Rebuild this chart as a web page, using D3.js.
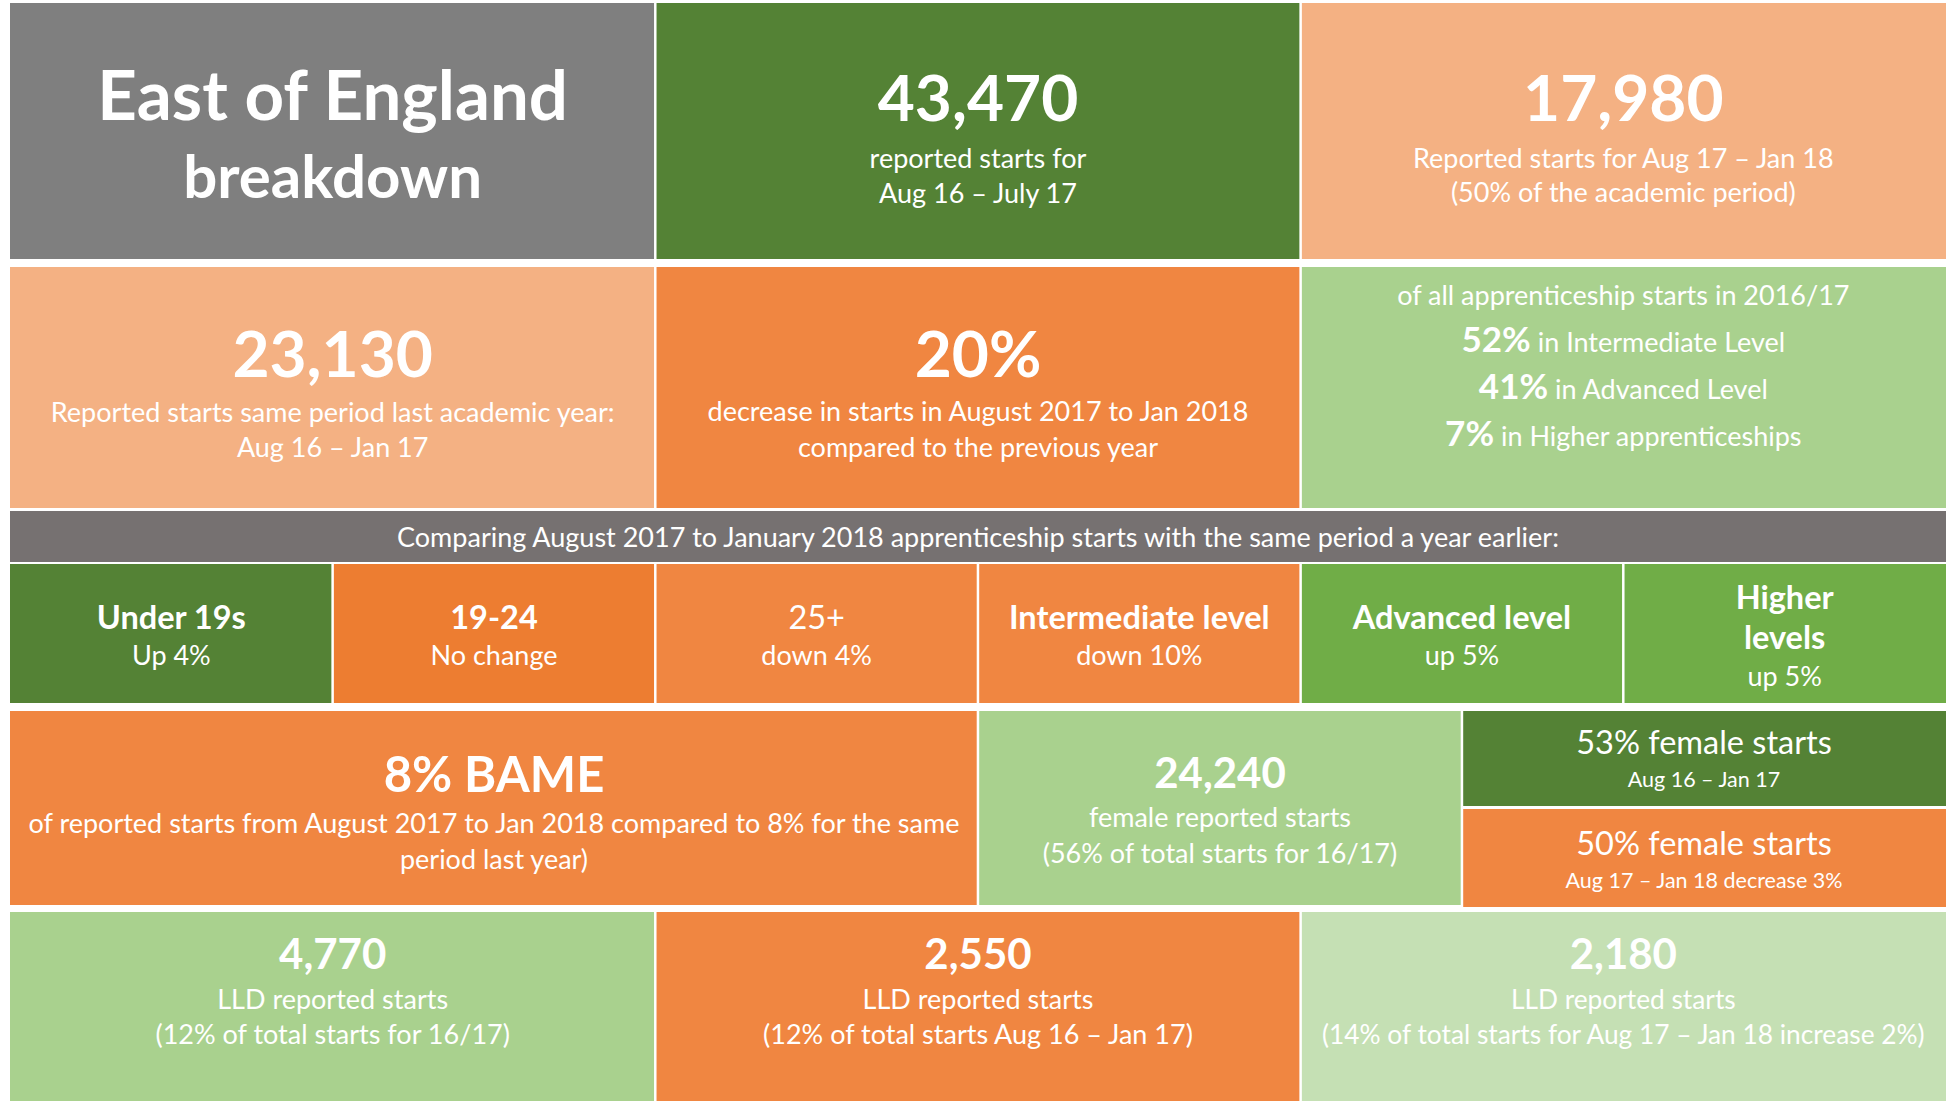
<!DOCTYPE html>
<html>
<head>
<meta charset="utf-8">
<script src="https://cdn.jsdelivr.net/npm/d3@7"></script>
<style>
  html, body { margin: 0; padding: 0; background: #ffffff; }
  svg { display: block; }
  text { font-family: Lato, "Open Sans", sans-serif; fill: #ffffff; }
</style>
</head>
<body>
<svg id="chart" width="1946" height="1101"></svg>
<script>
// ---------------- DATA ----------------
const regionTitle = ["East of England", "breakdown"];

const summaryFigures = ["43,470", "17,980", "23,130", "20%"];
const summaryCaptions = [
  ["reported starts for", "Aug 16 – July 17"],
  ["Reported starts for Aug 17 – Jan 18", "(50% of the academic period)"],
  ["Reported starts same period last academic year:", "Aug 16 – Jan 17"],
  ["decrease in starts in August 2017 to Jan 2018", "compared to the previous year"]
];

const levelIntro = "of all apprenticeship starts in 2016/17";
const levelShares = ["52%", "41%", "7%"];
const levelNames = ["in Intermediate Level", "in Advanced Level", "in Higher apprenticeships"];

const comparisonHeading = "Comparing August 2017 to January 2018 apprenticeship starts with the same period a year earlier:";
const comparisonCategories = [["Under 19s"], ["19-24"], ["25+"], ["Intermediate level"], ["Advanced level"], ["Higher", "levels"]];
const comparisonChanges = ["Up 4%", "No change", "down 4%", "down 10%", "up 5%", "up 5%"];
const comparisonBold = [true, true, false, true, true, true];

const bameFigure = "8% BAME";
const bameCaption = ["of reported starts from August 2017 to Jan 2018 compared to 8% for the same", "period last year)"];

const femaleFigure = "24,240";
const femaleCaption = ["female reported starts", "(56% of total starts for 16/17)"];
const femaleShareLabels = ["53% female starts", "50% female starts"];
const femaleSharePeriods = ["Aug 16 – Jan 17", "Aug 17 – Jan 18 decrease 3%"];

const lldFigures = ["4,770", "2,550", "2,180"];
const lldCaptions = [
  ["LLD reported starts", "(12% of total starts for 16/17)"],
  ["LLD reported starts", "(12% of total starts Aug 16 – Jan 17)"],
  ["LLD reported starts", "(14% of total starts for Aug 17 – Jan 18 increase 2%)"]
];

// ---------------- STYLE / LAYOUT ----------------
const C = {
  gray: "#7f7f7f", band: "#767171", darkGreen: "#548235", peach: "#f4b183",
  orange: "#f08641", deepOrange: "#ed7d31", lightGreen: "#a9d18e",
  midGreen: "#70ad47", paleGreen: "#c5e0b4"
};
const FONT_BIG = 64, FONT_SUB = 27, FONT_MID = 42, FONT_LABEL = 32.5;

const W = 1946, H = 1101;
const svg = d3.select("#chart");
const x = d3.scaleLinear().domain([0, 6]).range([10, W]);   // 6-column grid
// row edges [top, bottom]
const rows = {
  r1: [3, 259], r2: [267, 508], band: [511, 562], r3: [564, 703],
  r4: [711, 905], r4a: [711, 806], r4b: [809, 907], r5: [912, H]
};

function lines(arr, ys, size, weight) {
  return arr.map((t, i) => ({ t, y: ys[i], size, weight }));
}

const tiles = [];
// Row 1
tiles.push({ c: [0, 2], r: rows.r1, fill: C.gray, text: [
  { t: regionTitle[0], y: 120, size: 69, weight: 700 },
  { t: regionTitle[1], y: 198, size: 60, weight: 700 }]});
tiles.push({ c: [2, 4], r: rows.r1, fill: C.darkGreen, text: [
  { t: summaryFigures[0], y: 121, size: FONT_BIG, weight: 700 },
  ...lines(summaryCaptions[0], [168, 203], FONT_SUB, 400)]});
tiles.push({ c: [4, 6], r: rows.r1, fill: C.peach, text: [
  { t: summaryFigures[1], y: 121, size: FONT_BIG, weight: 700 },
  ...lines(summaryCaptions[1], [168, 202], FONT_SUB, 400)]});
// Row 2
tiles.push({ c: [0, 2], r: rows.r2, fill: C.peach, text: [
  { t: summaryFigures[2], y: 377, size: FONT_BIG, weight: 700 },
  ...lines(summaryCaptions[2], [422, 457], FONT_SUB, 400)]});
tiles.push({ c: [2, 4], r: rows.r2, fill: C.orange, text: [
  { t: summaryFigures[3], y: 377, size: FONT_BIG, weight: 700 },
  ...lines(summaryCaptions[3], [421, 457], FONT_SUB, 400)]});
tiles.push({ c: [4, 6], r: rows.r2, fill: C.lightGreen, text: [
  { t: levelIntro, y: 305, size: FONT_SUB, weight: 400 },
  ...levelShares.map((s, i) => ({ parts: [
      { t: s, size: 35, weight: 700 },
      { t: " " + levelNames[i], size: FONT_SUB, weight: 400 }], y: [352, 399, 446][i] }))]});
// Band
tiles.push({ c: [0, 6], r: rows.band, fill: C.band, text: [
  { t: comparisonHeading, y: 547, size: 27, weight: 400 }]});
// Row 3
const r3Fills = [C.darkGreen, C.deepOrange, C.orange, C.orange, C.midGreen, C.midGreen];
comparisonCategories.forEach((cat, i) => {
  const w = comparisonBold[i] ? 700 : 400;
  let text;
  if (cat.length === 1) {
    text = [{ t: cat[0], y: 629, size: FONT_LABEL, weight: w },
            { t: comparisonChanges[i], y: 665, size: FONT_SUB, weight: 400 }];
  } else {
    text = [{ t: cat[0], y: 609, size: FONT_LABEL, weight: w },
            { t: cat[1], y: 649, size: FONT_LABEL, weight: w },
            { t: comparisonChanges[i], y: 686, size: FONT_SUB, weight: 400 }];
  }
  tiles.push({ c: [i, i + 1], r: rows.r3, fill: r3Fills[i], text });
});
// Row 4
tiles.push({ c: [0, 3], r: rows.r4, fill: C.orange, text: [
  { t: bameFigure, y: 792, size: 49, weight: 700 },
  ...lines(bameCaption, [833, 869], FONT_SUB, 400)]});
tiles.push({ c: [3, 4.5], r: rows.r4, fill: C.lightGreen, text: [
  { t: femaleFigure, y: 788, size: FONT_MID, weight: 700 },
  ...lines(femaleCaption, [827, 863], FONT_SUB, 400)]});
tiles.push({ c: [4.5, 6], r: rows.r4a, fill: C.darkGreen, text: [
  { t: femaleShareLabels[0], y: 754, size: FONT_LABEL, weight: 400 },
  { t: femaleSharePeriods[0], y: 787, size: 21.5, weight: 400 }]});
tiles.push({ c: [4.5, 6], r: rows.r4b, fill: C.orange, text: [
  { t: femaleShareLabels[1], y: 855, size: FONT_LABEL, weight: 400 },
  { t: femaleSharePeriods[1], y: 888, size: 21.5, weight: 400 }]});
// Row 5
const r5Fills = [C.lightGreen, C.orange, C.paleGreen];
lldFigures.forEach((f, i) => {
  tiles.push({ c: [i * 2, i * 2 + 2], r: rows.r5, fill: r5Fills[i], text: [
    { t: f, y: 969, size: FONT_MID, weight: 700 },
    ...lines(lldCaptions[i], [1009, 1044], i === 2 ? 26.3 : FONT_SUB, 400)]});
});

// ---------------- DRAW ----------------
const g = svg.selectAll("g.tile").data(tiles).join("g").attr("class", "tile");

g.append("rect")
  .attr("x", d => x(d.c[0]) + (d.c[0] > 0 ? 1.2 : 0))
  .attr("y", d => d.r[0])
  .attr("width", d => (d.c[1] < 6 ? x(d.c[1]) - 1.3 : W) - (x(d.c[0]) + (d.c[0] > 0 ? 1.2 : 0)))
  .attr("height", d => d.r[1] - d.r[0])
  .attr("fill", d => d.fill);

g.each(function(d) {
  const cx = (x(d.c[0]) + x(d.c[1])) / 2;
  const sel = d3.select(this);
  d.text.forEach(line => {
    const t = sel.append("text")
      .attr("x", cx).attr("y", line.y)
      .attr("text-anchor", "middle");
    if (line.parts) {
      line.parts.forEach(p => {
        t.append("tspan").text(p.t)
          .attr("font-size", p.size).attr("font-weight", p.weight)
          .style("white-space", "pre");
      });
      t.attr("xml:space", "preserve");
    } else {
      t.text(line.t).attr("font-size", line.size).attr("font-weight", line.weight);
    }
  });
});
</script>
</body>
</html>
